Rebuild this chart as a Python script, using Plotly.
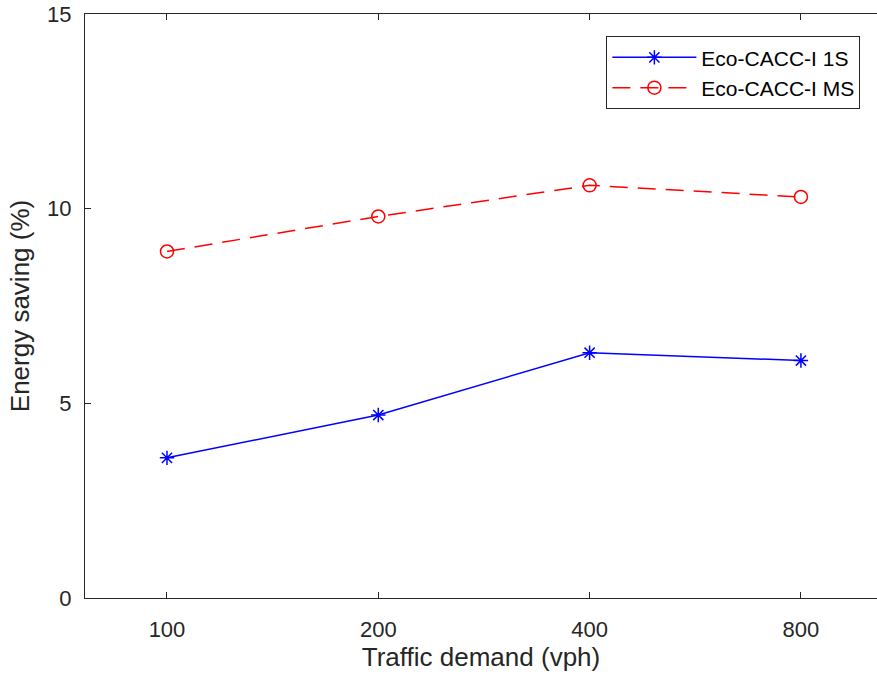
import plotly.graph_objects as go

categories = ["100", "200", "400", "800"]
positions = [1, 2, 3, 4]
eco_1s = [3.6, 4.7, 6.3, 6.1]
eco_ms = [8.9, 9.8, 10.6, 10.3]
y_ticks = [0, 5, 10, 15]

FONT = "Liberation Sans, Arial, sans-serif"
X_RANGE = [0.612, 4.36]

fig = go.Figure()
fig.add_trace(go.Scatter(
    x=positions, y=eco_1s, mode="lines+markers", name="Eco-CACC-I 1S",
    line=dict(color="#0000ff", width=1.5),
    marker=dict(symbol="asterisk-open", size=12, color="#0000ff",
                line=dict(color="#0000ff", width=1.5)),
))
fig.add_trace(go.Scatter(
    x=positions, y=eco_ms, mode="lines+markers", name="Eco-CACC-I MS",
    line=dict(color="#ff0000", width=1.5, dash="18px,10px"),
    marker=dict(symbol="circle-open", size=13, color="#ff0000",
                line=dict(color="#ff0000", width=1.5)),
))

axis_common = dict(
    showline=True, linecolor="#262626", linewidth=1,
    ticks="inside", ticklen=6, tickcolor="#262626", showgrid=False,
    zeroline=False,
    tickfont=dict(family=FONT, size=22, color="#262626"),
    title_font=dict(family=FONT, size=26, color="#262626"),
)

fig.update_layout(
    width=877, height=676,
    margin=dict(l=85, r=0, t=14, b=78),
    paper_bgcolor="white", plot_bgcolor="white",
    font=dict(family=FONT, color="#262626"),
    xaxis=dict(
        range=X_RANGE, tickvals=positions, ticktext=categories,
        ticklabelstandoff=12,
        title=dict(text="Traffic demand (vph)", standoff=4), **axis_common,
    ),
    xaxis2=dict(
        range=X_RANGE, tickvals=positions, showticklabels=False,
        overlaying="x", side="top", anchor="y",
        showline=True, linecolor="#262626", linewidth=1,
        ticks="inside", ticklen=6, tickcolor="#262626",
        showgrid=False, zeroline=False,
    ),
    yaxis=dict(
        range=[0, 15], tickvals=y_ticks, ticklabelstandoff=8,
        title=dict(text="Energy saving (%)", standoff=10), **axis_common,
    ),
    legend=dict(
        x=0.979, y=0.962, xanchor="right", yanchor="top",
        bgcolor="white", bordercolor="#262626", borderwidth=1,
        font=dict(family=FONT, size=21, color="#000000"),
        tracegroupgap=0, itemwidth=84,
    ),
    showlegend=True,
)

# invisible trace to activate the top mirror axis
fig.add_trace(go.Scatter(x=[positions[0]], y=[None], xaxis="x2", showlegend=False,
                         hoverinfo="skip", mode="markers"))

fig.write_html("out.html")
